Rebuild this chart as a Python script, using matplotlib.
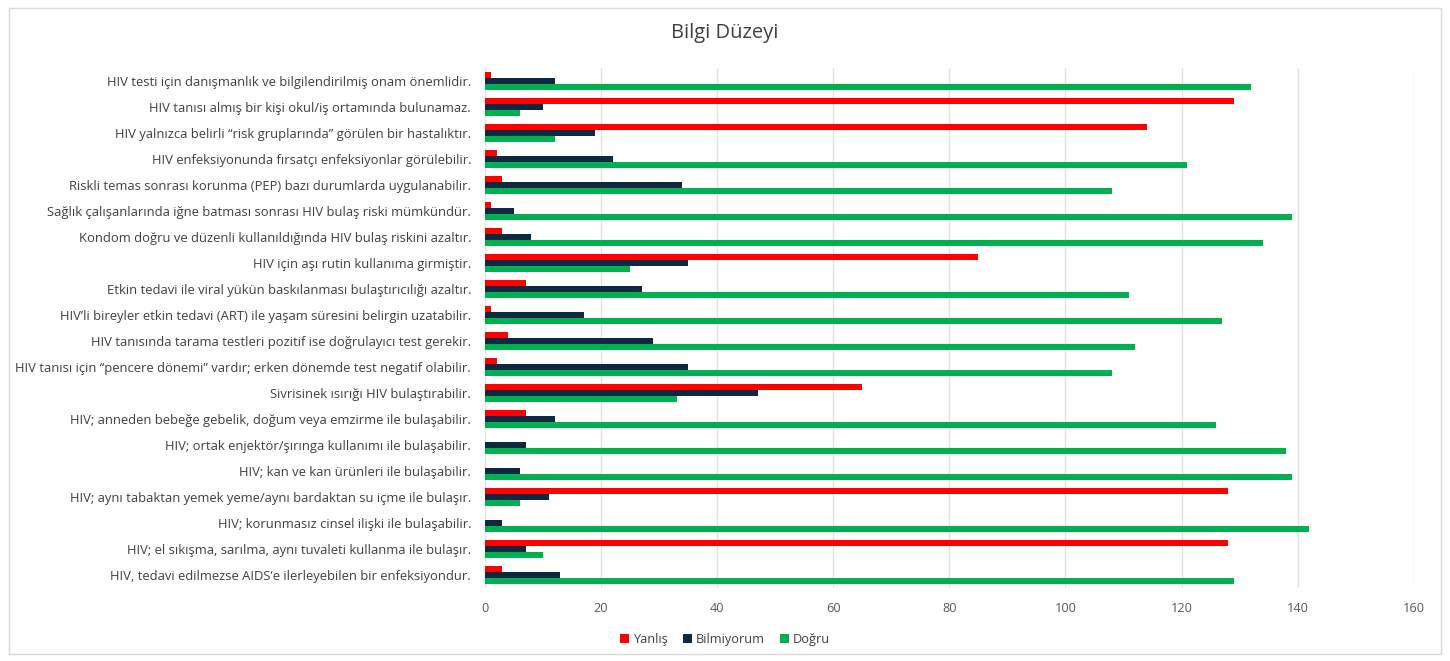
import numpy as np
import matplotlib
matplotlib.use("Agg")
import matplotlib.pyplot as plt
from matplotlib.patches import Rectangle

plt.rcParams["font.family"] = ["Open Sans", "DejaVu Sans"]

# categories, listed top to bottom as shown in the chart
CATS = [
    "HIV testi için danışmanlık ve bilgilendirilmiş onam önemlidir.",
    "HIV tanısı almış bir kişi okul/iş ortamında bulunamaz.",
    "HIV yalnızca belirli “risk gruplarında” görülen bir hastalıktır.",
    "HIV enfeksiyonunda fırsatçı enfeksiyonlar görülebilir.",
    "Riskli temas sonrası korunma (PEP) bazı durumlarda uygulanabilir.",
    "Sağlık çalışanlarında iğne batması sonrası HIV bulaş riski mümkündür.",
    "Kondom doğru ve düzenli kullanıldığında HIV bulaş riskini azaltır.",
    "HIV için aşı rutin kullanıma girmiştir.",
    "Etkin tedavi ile viral yükün baskılanması bulaştırıcılığı azaltır.",
    "HIV’li bireyler etkin tedavi (ART) ile yaşam süresini belirgin uzatabilir.",
    "HIV tanısında tarama testleri pozitif ise doğrulayıcı test gerekir.",
    "HIV tanısı için “pencere dönemi” vardır; erken dönemde test negatif olabilir.",
    "Sivrisinek ısırığı HIV bulaştırabilir.",
    "HIV; anneden bebeğe gebelik, doğum veya emzirme ile bulaşabilir.",
    "HIV; ortak enjektör/şırınga kullanımı ile bulaşabilir.",
    "HIV; kan ve kan ürünleri ile bulaşabilir.",
    "HIV; aynı tabaktan yemek yeme/aynı bardaktan su içme ile bulaşır.",
    "HIV; korunmasız cinsel ilişki ile bulaşabilir.",
    "HIV; el sıkışma, sarılma, aynı tuvaleti kullanma ile bulaşır.",
    "HIV, tedavi edilmezse AIDS’e ilerleyebilen bir enfeksiyondur.",
]
YANLIS = [1, 129, 114, 2, 3, 1, 3, 85, 7, 1, 4, 2, 65, 7, 0, 0, 128, 0, 128, 3]
BILMIYORUM = [12, 10, 19, 22, 34, 5, 8, 35, 27, 17, 29, 35, 47, 12, 7, 6, 11, 3, 7, 13]
DOGRU = [132, 6, 12, 121, 108, 139, 134, 25, 111, 127, 112, 108, 33, 126, 138, 139, 6, 142, 10, 129]
SERIES = ["Yanlış", "Bilmiyorum", "Doğru"]
COLORS = ["#FF0000", "#0E2841", "#00B050"]
XTICKS = [0, 20, 40, 60, 80, 100, 120, 140, 160]

fig = plt.figure(figsize=(14.5, 6.61), dpi=100)
ax = fig.add_axes([0.3345, 0.1104, 0.6405, 0.7866])

n = len(CATS)
y = np.arange(n)[::-1].astype(float)
h = 0.235
for j, (vals, col, lab) in enumerate(zip([YANLIS, BILMIYORUM, DOGRU], COLORS, SERIES)):
    ax.barh(y + (1 - j) * h, vals, h, color=col, label=lab, zorder=3)

ax.set_ylim(-0.5, n - 0.5)
ax.set_xlim(0, 160)
ax.set_yticks(y)
ax.set_yticklabels(CATS, fontsize=9.4, color="#404040")
ax.set_xticks(XTICKS)
ax.set_xticklabels([str(t) for t in XTICKS], fontsize=9.2, color="#595959")
ax.tick_params(length=0, pad=10)
ax.tick_params(axis="x", pad=10)
ax.grid(axis="x", color="#E2E2E2", lw=1, zorder=0)
for s in ax.spines.values():
    s.set_visible(False)

fig.text(0.5, 0.95, "Bilgi Düzeyi", ha="center", va="center", fontsize=14.5, color="#404040")
fig.legend(loc="center", bbox_to_anchor=(0.5, 0.033), ncol=3, frameon=False,
           fontsize=9.2, handlelength=0.7, handleheight=0.7, handletextpad=0.3,
           columnspacing=1.2, labelcolor="#404040")
fig.patches.append(Rectangle((0.006, 0.01), 0.988, 0.978, transform=fig.transFigure,
                             fill=False, edgecolor="#D9D9D9", lw=1))

fig.savefig("out.png", dpi=100)
